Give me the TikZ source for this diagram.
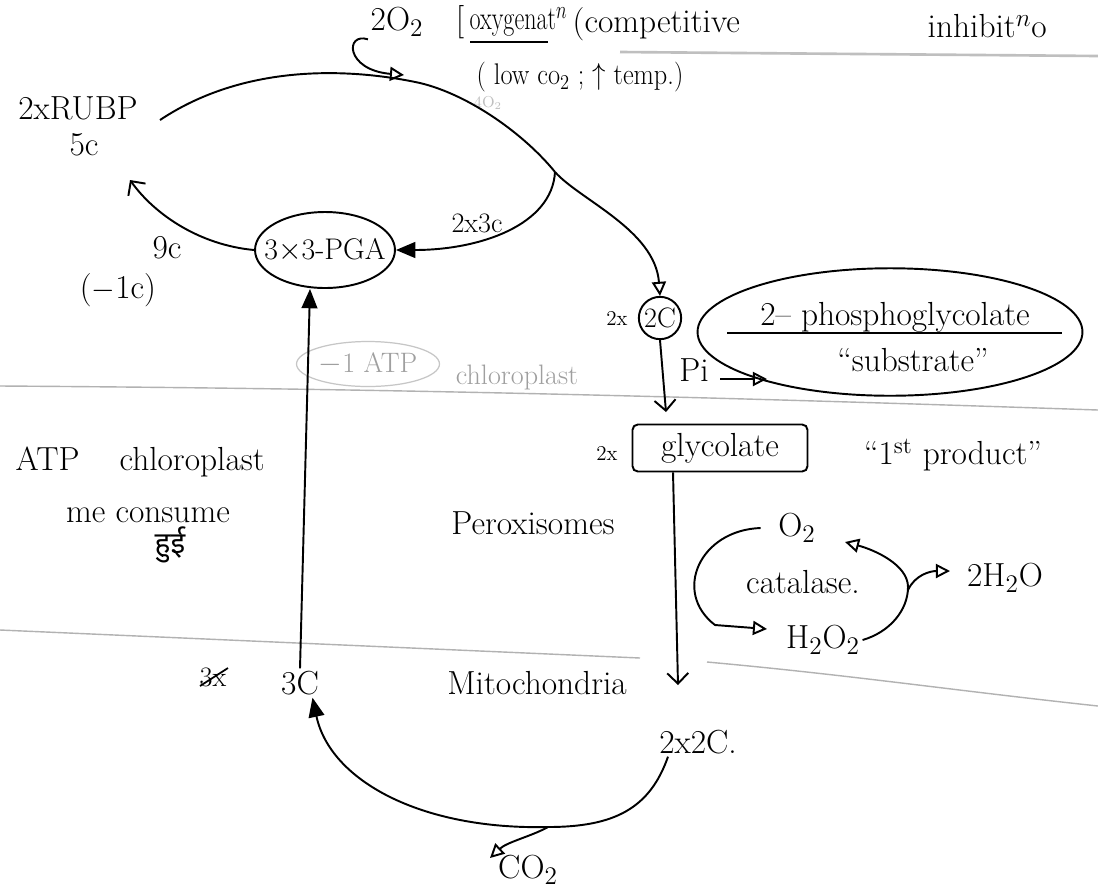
\documentclass[tikz,border=0pt]{standalone}
\usepackage{fontspec}
\newfontfamily\devafont[Script=Devanagari]{Noto Sans}
\usetikzlibrary{arrows.meta,shapes.geometric}
\begin{document}
\begin{tikzpicture}[x=0.02cm,y=-0.02cm,line width=1.1pt,
  lbl/.style={font=\fontsize{19}{21}\selectfont,inner sep=1pt},
  mid/.style={font=\fontsize{16}{18}\selectfont,inner sep=1pt},
  sml/.style={font=\fontsize{12}{14}\selectfont,inner sep=1pt},
  faintlbl/.style={font=\fontsize{16}{18}\selectfont,inner sep=1pt,text=gray!75},
  boundary/.style={draw=gray!60,line width=0.8pt},
  opentip/.style={-{Triangle[open,length=8pt,width=8pt]}},
  filltip/.style={-{Triangle[length=11pt,width=9pt]}},
  barbtip/.style={-{Straight Barb[length=6pt,width=12pt]}}]

\useasboundingbox (0,0) rectangle (1098,890);
\clip (0,0) rectangle (1098,890);
\fill[white] (0,0) rectangle (1098,890);

% compartment boundaries
\draw[boundary] (0,386) .. controls (300,388) and (600,393) .. (1098,410);
\draw[boundary] (0,630) -- (640,658);
\draw[boundary] (707,662) .. controls (850,675) and (950,690) .. (1098,706);

% heading
\node[lbl] (o2top) at (397,22) {2O$_2$};
\node[lbl] (brk) at (460,22) {[};
\node[lbl,anchor=west] (oxy) at (467,22) {\scalebox{0.72}[1]{oxygenat$^n$}};
\draw (470,42) -- (548,42);
\node[lbl,anchor=west] (comp) at (570,24) {(competitive};
\node[lbl,anchor=west] (inh) at (925,26) {inhibit$^n$o};
\draw[draw=gray!50,line width=1.5pt] (620,52) -- (1098,56);
\node[font=\fontsize{17}{19}\selectfont,inner sep=1pt] (low) at (580,77) {\scalebox{0.88}[1]{( low co$_2$ ; $\uparrow$ temp.)}};
\node[font=\fontsize{9}{10}\selectfont,text=gray!50] (f4o2) at (488,103) {4O$_2$};

% chloroplast
\node[lbl] (rubp) at (78,108) {2xRUBP};
\node[lbl] (fivec) at (84,145) {5c};
\coordinate (arcA) at (160,120);
\coordinate (jn) at (555,172);
\coordinate (rubpin) at (130,180);
\node[draw,ellipse,minimum width=2.8cm,minimum height=1.52cm,inner sep=0pt] (pga) at (325,250) {};
\node[font=\fontsize{17}{19}\selectfont,inner sep=0pt] (pgat) at (pga) {3$\times$3-PGA};
\node[draw,circle,minimum size=0.84cm,inner sep=0pt,mid] (c2) at (660,318) {2C};
\node[sml] (c2x) at (617,318) {2x};

\draw[opentip] (o2top.south west) .. controls (345,32) and (345,70) .. (404,75);
\draw (arcA) .. controls (250,60) and (360,70) .. (420,83) .. controls (470,95) and (525,135) .. (jn);
\draw[opentip] (jn) .. controls (580,200) and (655,230) .. (c2.north);
\draw[filltip] (jn) .. controls (552,225) and (480,250) .. (pga.east);
\node[mid] (l23) at (477,223) {2x3c};
\draw[barbtip] (pga.west) .. controls (200,245) and (155,215) .. (rubpin);
\node[lbl] (l9) at (167,248) {9c};
\node[lbl] (lm1) at (118,290) {($-$1c)};

\node[draw=gray!45,ellipse,minimum width=2.86cm,minimum height=0.9cm,inner sep=0pt,line width=0.7pt] (atpe) at (368,364) {};
\node[faintlbl] (atpt) at (atpe) {$-$1 ATP};
\node[faintlbl] (chl) at (517,377) {chloroplast};

\node[draw,ellipse,minimum width=7.7cm,minimum height=2.55cm,inner sep=0pt] (pgl) at (890,332) {};
\node[lbl] (pglt) at (895,317) {2– phosphoglycolate};
\draw (727,333) -- (1062,333);
\node[lbl] (subs) at (913,360) {“substrate”};
\node[lbl] (pi) at (694,370) {Pi};
\coordinate (piend) at (767,379);
\draw[opentip] (720,379) -- (piend);

% peroxisome
\coordinate (glyin) at (666,412);
\draw[barbtip] (c2.south) -- (glyin);
\node[draw,rounded corners=3pt,minimum width=3.5cm,minimum height=0.94cm,lbl] (gly) at (720,448) {glycolate};
\node[sml] (glyx) at (607,453) {2x};
\node[lbl] (first) at (953,455) {“1\textsuperscript{st} product”};
\coordinate (mitoin) at (678,685);
\draw[barbtip] ([xshift=-0.94cm]gly.south) -- (mitoin);

\node[lbl] (perox) at (533,523) {Peroxisomes};
\node[lbl] (cat) at (803,582) {catalase.};
\node[lbl] (o2b) at (797,528) {O$_2$};
\node[lbl] (h2o2) at (823,640) {H$_2$O$_2$};
\node[lbl] (h2o) at (1005,578) {2H$_2$O};
\coordinate (h2in) at (767,629);
\coordinate (o2in) at (845,542);
\coordinate (h2oin) at (950,571);
\draw[opentip] ([xshift=-0.3cm]o2b.west) .. controls (700,530) and (672,592) .. (715,625) -- (h2in);
\draw[opentip] (h2o2.east) .. controls (890,632) and (908,610) .. (908,587) .. controls (908,565) and (875,550) .. (o2in);
\draw[opentip] (908,590) .. controls (915,575) and (930,571) .. (h2oin);

% left note
\node[lbl,anchor=west] (atp) at (13,462) {ATP\hspace{1.2em}chloroplast};
\node[lbl] (meco) at (148,515) {me consume};
\node[font=\devafont\fontsize{17}{19}\selectfont] (huee) at (170,545) {हुई};

% mitochondria
\node[lbl] (threec) at (300,683) {3C};
\node[mid] (crossed) at (213,677) {3x};
\draw[line width=1pt] (200,686) -- (228,668);
\node[lbl] (mito) at (537,683) {Mitochondria};
\node[lbl] (twotwo) at (698,742) {2x2C.};
\node[lbl] (co2) at (528,870) {CO$_2$};
\coordinate (split) at (548,827);
\coordinate (co2in) at (490,858);
\draw[filltip] (threec.north) -- ([xshift=-0.3cm]pga.south);
\draw[filltip] ([xshift=-0.6cm]twotwo.south) .. controls (650,808) and (615,827) .. (split) .. controls (420,830) and (330,780) .. ([xshift=0.25cm]threec.south);
\draw[opentip] (split) .. controls (532,836) and (507,842) .. (co2in);
\end{tikzpicture}
\end{document}
